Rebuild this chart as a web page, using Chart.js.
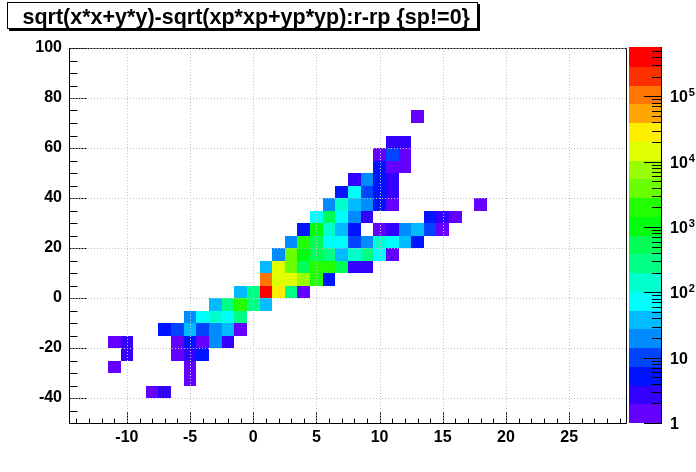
<!DOCTYPE html>
<html>
<head>
<meta charset="utf-8">
<script src="https://cdn.jsdelivr.net/npm/chart.js@4.4.1/dist/chart.umd.min.js"></script>
<style>
  body { margin: 0; background: #fff; }
</style>
</head>
<body>
<canvas id="canvas" width="696" height="472"></canvas>
<script>
// 2D histogram: bin centre in x (width 1), lower edge in y (height 5), entries
var cellX = [
  13,
  11, 12,
  10, 11, 12,
  10, 11, 12,
  8, 9, 10, 11,
  7, 8, 9, 10, 11,
  6, 7, 8, 9, 10, 11, 18,
  5, 6, 7, 8, 9, 14, 15, 16,
  4, 5, 6, 7, 8, 10, 11, 12, 13, 14, 15,
  3, 4, 5, 6, 7, 8, 9, 10, 11, 12, 13,
  2, 3, 4, 5, 6, 7, 8, 9, 10, 11,
  1, 2, 3, 4, 5, 6, 7, 8, 9,
  1, 2, 3, 4, 5, 6,
  -1, 0, 1, 2, 3, 4,
  -3, -2, -1, 0, 1,
  -5, -4, -3, -2, -1,
  -7, -6, -5, -4, -3, -2, -1,
  -11, -10, -6, -5, -4, -3, -2,
  -10, -6, -5, -4,
  -11, -5,
  -5,
  -8, -7
];
var cellY = [
  70,
  60, 60,
  55, 55, 55,
  50, 50, 50,
  45, 45, 45, 45,
  40, 40, 40, 40, 40,
  35, 35, 35, 35, 35, 35, 35,
  30, 30, 30, 30, 30, 30, 30, 30,
  25, 25, 25, 25, 25, 25, 25, 25, 25, 25, 25,
  20, 20, 20, 20, 20, 20, 20, 20, 20, 20, 20,
  15, 15, 15, 15, 15, 15, 15, 15, 15, 15,
  10, 10, 10, 10, 10, 10, 10, 10, 10,
  5, 5, 5, 5, 5, 5,
  0, 0, 0, 0, 0, 0,
  -5, -5, -5, -5, -5,
  -10, -10, -10, -10, -10,
  -15, -15, -15, -15, -15, -15, -15,
  -20, -20, -20, -20, -20, -20, -20,
  -25, -25, -25, -25,
  -30, -30,
  -35,
  -40, -40
];
var cellN = [
  1,
  3, 3,
  1, 10, 1,
  5, 1, 1,
  3, 20, 5, 3,
  5, 75, 10, 5, 3,
  20, 150, 40, 20, 5, 1, 1,
  75, 550, 75, 20, 3, 5, 3, 1,
  5, 1050, 150, 40, 5, 1, 3, 20, 40, 10, 1,
  20, 2000, 550, 75, 75, 10, 20, 150, 75, 40, 5,
  20, 4000, 1050, 550, 280, 40, 150, 280, 75, 1,
  40, 15000, 4000, 550, 2000, 2000, 550, 3, 3,
  110000, 15000, 15000, 7600, 2000, 5,
  40, 280, 500000, 29000, 280, 1,
  40, 280, 2000, 280, 40,
  20, 75, 150, 75, 280,
  5, 10, 40, 10, 20, 40, 1,
  1, 3, 1, 5, 1, 20, 3,
  3, 1, 3, 5,
  1, 1,
  1,
  1, 3
];

var xTicks = [-10, -5, 0, 5, 10, 15, 20, 25];
var yTicks = [-40, -20, 0, 20, 40, 60, 80, 100];
var zTicks = [1, 10, 100, 1000, 10000, 100000];
var zMax = 550000;
var nLevels = 20;
var binW = 1, binH = 5;
var titleText = 'sqrt(x*x+y*y)-sqrt(xp*xp+yp*yp):r-rp {sp!=0}';

var FONT = "'Liberation Sans', Arial, sans-serif";

// ROOT "pretty" palette (violet -> red), 50 colours, picked for 20 contours
function levelColor(k) {
  var idx = Math.floor((k + 0.99) * 50 / nLevels);
  var hue = idx >= 49 ? 0 : 280 - (idx + 1) * 5.6;
  return 'hsl(' + hue + ',100%,50%)';
}

function levelOf(n) {
  var k = Math.floor(nLevels * Math.log10(n) / Math.log10(zMax));
  return Math.max(0, Math.min(nLevels - 1, k));
}

var rootPainter = {
  id: 'rootPainter',
  beforeDatasetsDraw: function(chart) {
    var ctx = chart.ctx, a = chart.chartArea;
    var x = chart.scales.x, y = chart.scales.y;
    ctx.save();
    ctx.beginPath();
    ctx.rect(a.left, a.top, a.right - a.left, a.bottom - a.top);
    ctx.clip();
    chart.data.datasets[0].data.forEach(function(p) {
      var x0 = Math.round(x.getPixelForValue(p.x - binW / 2));
      var x1 = Math.round(x.getPixelForValue(p.x + binW / 2));
      var y0 = Math.round(y.getPixelForValue(p.y + binH / 2));
      var y1 = Math.round(y.getPixelForValue(p.y - binH / 2));
      ctx.fillStyle = levelColor(levelOf(p.n));
      ctx.fillRect(x0, y0, x1 - x0, y1 - y0);
    });

    // dotted grid over the cells
    ctx.strokeStyle = '#c4c4c4';
    ctx.lineWidth = 1;
    ctx.setLineDash([1, 2]);
    xTicks.forEach(function(v) {
      var px = Math.round(x.getPixelForValue(v)) + 0.5;
      ctx.beginPath(); ctx.moveTo(px, a.top); ctx.lineTo(px, a.bottom); ctx.stroke();
    });
    yTicks.forEach(function(v) {
      var py = Math.round(y.getPixelForValue(v)) + 0.5;
      ctx.beginPath(); ctx.moveTo(a.left, py); ctx.lineTo(a.right, py); ctx.stroke();
    });
    ctx.restore();
  },
  afterDraw: function(chart) {
    var ctx = chart.ctx, a = chart.chartArea;
    var x = chart.scales.x, y = chart.scales.y, z = chart.scales.z;
    ctx.save();
    ctx.strokeStyle = '#000';
    ctx.lineWidth = 1;

    // frame
    var L = a.left - 0.5, R = a.right + 0.5, T = a.top + 0.5, B = a.bottom + 0.5;
    ctx.beginPath();
    ctx.moveTo(L, T); ctx.lineTo(L, B); ctx.lineTo(R, B); ctx.lineTo(R, T);
    ctx.stroke();
    ctx.setLineDash([2, 1]);
    ctx.beginPath(); ctx.moveTo(L, T); ctx.lineTo(R, T); ctx.stroke();

    // y ticks
    for (var v = -50; v <= 100; v += 5) {
      var py = Math.round(y.getPixelForValue(v)) + 0.5;
      var major = yTicks.indexOf(v) >= 0;
      ctx.setLineDash(major ? [2, 1] : []);
      ctx.beginPath(); ctx.moveTo(L, py); ctx.lineTo(L + (major ? 17 : 8), py); ctx.stroke();
    }
    // x ticks
    for (var u = -14; u <= 29; u += 1) {
      var px = Math.round(x.getPixelForValue(u)) + 0.5;
      var majorX = xTicks.indexOf(u) >= 0;
      ctx.setLineDash(majorX ? [2, 1] : []);
      ctx.beginPath(); ctx.moveTo(px, B); ctx.lineTo(px, B - (majorX ? 11 : 5)); ctx.stroke();
    }
    ctx.setLineDash([]);

    // palette
    var bx0 = z.left + 3, bx1 = z.left + 35;
    var lmax = Math.log10(zMax);
    for (var k = 0; k < nLevels; k++) {
      var lo = Math.pow(10, k * lmax / nLevels), hi = Math.pow(10, (k + 1) * lmax / nLevels);
      var p0 = Math.round(z.getPixelForValue(lo)), p1 = Math.round(z.getPixelForValue(hi));
      if (k === nLevels - 1) p1 -= 1;
      ctx.fillStyle = levelColor(k);
      ctx.fillRect(bx0, p1, bx1 - bx0, p0 - p1);
    }
    ctx.beginPath(); ctx.moveTo(bx1 + 0.5, z.top - 1); ctx.lineTo(bx1 + 0.5, z.bottom + 1); ctx.stroke();
    // palette axis ticks
    for (var d = 0; d <= 5; d++) {
      for (var m = 1; m <= 9; m++) {
        var val = m * Math.pow(10, d);
        if (val > zMax) break;
        var pz = Math.round(z.getPixelForValue(val)) + 0.5;
        ctx.beginPath(); ctx.moveTo(bx1, pz); ctx.lineTo(bx1 - (m === 1 ? 17 : 9), pz); ctx.stroke();
      }
    }
    // palette labels
    ctx.fillStyle = '#000';
    ctx.textBaseline = 'alphabetic';
    ctx.textAlign = 'left';
    zTicks.forEach(function(val) {
      var pz = z.getPixelForValue(val);
      var e = Math.round(Math.log10(val));
      ctx.font = 'bold 16px ' + FONT;
      var lx = bx1 + 9;
      if (e < 2) {
        ctx.fillText(String(val), lx, pz + 6);
      } else {
        ctx.fillText('10', lx, pz + 6);
        var w = ctx.measureText('10').width;
        ctx.font = 'bold 11px ' + FONT;
        ctx.fillText(String(e), lx + w + 1, pz);
      }
    });

    // title box with shadow
    ctx.fillStyle = '#000';
    ctx.fillRect(9, 4, 471, 27);
    ctx.fillStyle = '#fff';
    ctx.fillRect(7, 2, 471, 27);
    ctx.strokeRect(7.5, 2.5, 470, 26);
    ctx.fillStyle = '#000';
    ctx.font = 'bold 21.5px ' + FONT;
    ctx.fillText(titleText, 22.5, 23.5);
    ctx.restore();
  }
};

var cells = cellX.map(function(cx, i) {
  return { x: cx, y: cellY[i] + binH / 2, n: cellN[i] };
});

var tickFont = { family: FONT, weight: 'bold', size: 16 };

var ctx = document.getElementById('canvas').getContext('2d');
new Chart(ctx, {
  type: 'scatter',
  data: {
    datasets: [{
      data: cells,
      pointRadius: 0,
      pointHoverRadius: 0
    }]
  },
  options: {
    responsive: false,
    animation: false,
    events: [],
    layout: { padding: { top: 48 } },
    plugins: {
      legend: { display: false },
      tooltip: { enabled: false }
    },
    scales: {
      x: {
        type: 'linear',
        min: -14.5,
        max: 29.5,
        grid: { display: false, drawTicks: false },
        border: { display: false },
        afterBuildTicks: function(s) { s.ticks = xTicks.map(function(v) { return { value: v }; }); },
        afterFit: function(s) { s.height = 49; },
        ticks: { font: tickFont, color: '#000', padding: 5, maxRotation: 0, autoSkip: false }
      },
      y: {
        type: 'linear',
        position: 'left',
        min: -50,
        max: 100,
        grid: { display: false, drawTicks: false },
        border: { display: false },
        afterBuildTicks: function(s) { s.ticks = yTicks.map(function(v) { return { value: v }; }); },
        afterFit: function(s) { s.width = 70; },
        ticks: { font: tickFont, color: '#000', padding: 8, autoSkip: false }
      },
      z: {
        type: 'logarithmic',
        position: 'right',
        min: 1,
        max: zMax,
        grid: { display: false, drawTicks: false },
        border: { display: false },
        ticks: { display: false },
        afterBuildTicks: function(s) { s.ticks = zTicks.map(function(v) { return { value: v }; }); },
        afterFit: function(s) { s.width = 70; }
      }
    }
  },
  plugins: [rootPainter]
});
</script>
</body>
</html>
